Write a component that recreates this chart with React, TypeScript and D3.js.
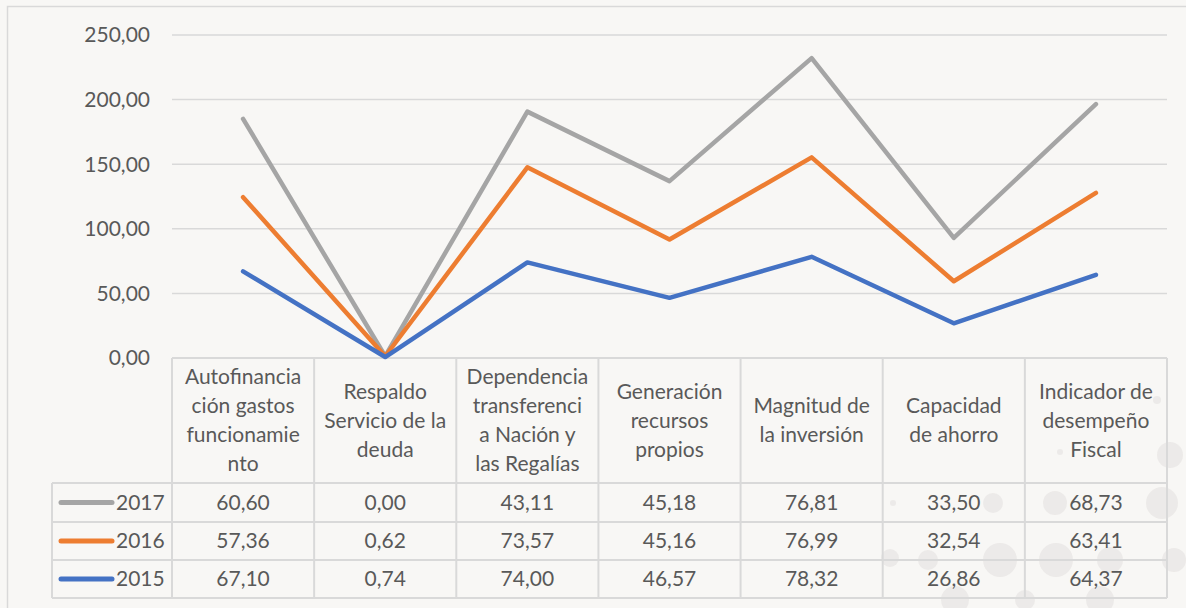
import React from "react";
import * as d3 from "d3";

const categories: string[][] = [
  ["Autofinancia", "ción gastos", "funcionamie", "nto"],
  ["Respaldo", "Servicio de la", "deuda"],
  ["Dependencia", "transferenci", "a Nación y", "las Regalías"],
  ["Generación", "recursos", "propios"],
  ["Magnitud de", "la inversión"],
  ["Capacidad", "de ahorro"],
  ["Indicador de", "desempeño", "Fiscal"],
];
const seriesNames = ["2017", "2016", "2015"];
const values2017 = [60.6, 0.0, 43.11, 45.18, 76.81, 33.5, 68.73];
const values2016 = [57.36, 0.62, 73.57, 45.16, 76.99, 32.54, 63.41];
const values2015 = [67.1, 0.74, 74.0, 46.57, 78.32, 26.86, 64.37];
const colors = ["#A5A5A5", "#ED7D31", "#4472C4"];
const yTicks = [0, 50, 100, 150, 200, 250];

const bubbles = [
  [893, 503, 3], [993, 503, 10], [1055, 503, 12], [1162, 503, 16],
  [890, 558, 9], [928, 560, 10], [1000, 560, 17], [1056, 560, 17],
  [1110, 560, 13], [1174, 560, 12], [1170, 455, 13], [1157, 400, 4],
  [1060, 452, 3], [955, 600, 14], [1100, 600, 14], [1025, 600, 10],
];

const W = 1186, H = 608;
const plotL = 172, plotR = 1167, plotT = 35, plotB = 358;
const legendL = 52;
const rowTops = [358, 483, 522, 560, 598];

export default function App() {
  const fmt = (v: number) => v.toFixed(2).replace(".", ",");
  const x = d3.scaleBand<number>().domain(d3.range(categories.length)).range([plotL, plotR]);
  const y = d3.scaleLinear().domain([0, 250]).range([plotB, plotT]);

  const raw = [values2015, values2016, values2017];
  const stack: number[][] = [];
  let acc = values2015.map(() => 0);
  raw.forEach((arr) => {
    acc = acc.map((a, i) => a + arr[i]);
    stack.push(acc.slice());
  });
  const lineGen = d3
    .line<number>()
    .x((_, i) => (x(i) as number) + x.bandwidth() / 2)
    .y((d) => y(d));

  const tableRows = [values2017, values2016, values2015];
  const font = "Lato, 'Open Sans', sans-serif";
  const textColor = "#595959";
  const gridColor = "#D9D9D9";

  return (
    <svg width={W} height={H} style={{ position: "absolute", left: 0, top: 0 }} fontFamily={font}>
      <rect x={0} y={0} width={W} height={H} fill="#F8F7F5" />
      {bubbles.map(([cx, cy, r], i) => (
        <circle key={i} cx={cx} cy={cy} r={r} fill="#E8E6E4" opacity={0.75} />
      ))}
      <rect x={7.5} y={6.5} width={W} height={H} fill="none" stroke="#D9D9D9" strokeWidth={1.5} />
      {yTicks.map((t) => (
        <g key={t}>
          {t > 0 && <line x1={plotL} x2={plotR} y1={y(t)} y2={y(t)} stroke={gridColor} strokeWidth={1.5} />}
          <text x={150} y={y(t)} dy="0.35em" textAnchor="end" fontSize={21} fill={textColor}>
            {fmt(t)}
          </text>
        </g>
      ))}
      <g stroke={gridColor} strokeWidth={2} fill="none">
        <line x1={plotL} x2={plotR} y1={rowTops[0]} y2={rowTops[0]} />
        {rowTops.slice(1).map((ry, i) => (
          <line key={i} x1={legendL} x2={plotR} y1={ry} y2={ry} />
        ))}
        <line x1={legendL} x2={legendL} y1={rowTops[1]} y2={rowTops[4]} />
        {d3.range(categories.length + 1).map((i) => {
          const xx = i < categories.length ? (x(i) as number) : plotR;
          return <line key={i} x1={xx} x2={xx} y1={rowTops[0]} y2={rowTops[4]} />;
        })}
      </g>
      {categories.map((lines, i) => {
        const cx = (x(i) as number) + x.bandwidth() / 2;
        const cy = (rowTops[0] + rowTops[1]) / 2;
        const lh = 29;
        const start = cy - ((lines.length - 1) * lh) / 2;
        return (
          <text key={i} textAnchor="middle" fontSize={21} fill={textColor}>
            {lines.map((l, j) => (
              <tspan key={j} x={cx} y={start + j * lh} dy="0.35em">
                {l}
              </tspan>
            ))}
          </text>
        );
      })}
      {tableRows.map((row, r) => {
        const cy = (rowTops[r + 1] + rowTops[r + 2]) / 2;
        return (
          <g key={r}>
            <line x1={61} x2={112} y1={cy} y2={cy} stroke={colors[r]} strokeWidth={5} strokeLinecap="round" />
            <text x={116} y={cy} dy="0.35em" fontSize={21} fill={textColor}>
              {seriesNames[r]}
            </text>
            {row.map((v, i) => (
              <text key={i} x={(x(i) as number) + x.bandwidth() / 2} y={cy} dy="0.35em" textAnchor="middle" fontSize={21} fill={textColor}>
                {fmt(v)}
              </text>
            ))}
          </g>
        );
      })}
      {[2, 1, 0].map((s) => (
        <path
          key={s}
          d={lineGen(stack[s]) as string}
          fill="none"
          stroke={colors[2 - s]}
          strokeWidth={4.5}
          strokeLinejoin="round"
          strokeLinecap="round"
        />
      ))}
    </svg>
  );
}
